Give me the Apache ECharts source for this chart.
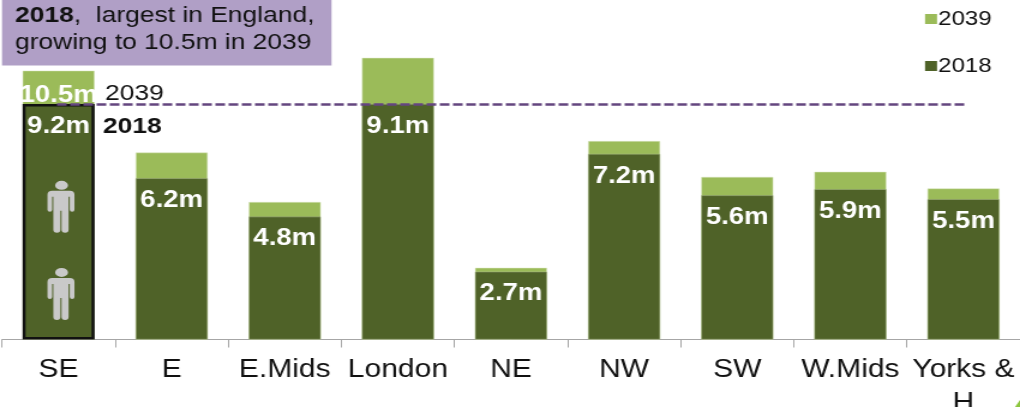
<!DOCTYPE html>
<html><head><meta charset="utf-8">
<style>html,body{margin:0;padding:0;background:#fff;overflow:hidden}#c{width:850px;height:407px;transform:scaleX(1.2);transform-origin:0 0}</style>
<script src="https://cdn.jsdelivr.net/npm/echarts@6/dist/echarts.min.js"></script>
</head><body><div id="c"></div>
<script>
const categories = ['SE','E','E.Mids','London','NE','NW','SW','W.Mids','Yorks &\nH'];
const values2018 = [9.2,6.3,4.8,9.2,2.65,7.25,5.63,5.87,5.48];
const values2039 = [10.5,7.3,5.37,11.0,2.8,7.75,6.35,6.55,5.9];
const labels2018 = ['9.2m','6.2m','4.8m','9.1m','2.7m','7.2m','5.6m','5.9m','5.5m'];
const person = 'path://M12 0a5.5 4.5 0 1 0 .01 0zM5 10h14q4 0 4 4v15q0 2-2 2t-2-2v-13h-1v33q0 3-3 3t-3-3v-19h-1v19q0 3-3 3t-3-3v-33h-1v13q0 2-2 2t-2-2v-15q0-4 4-4z';
const S = 1.2;
const chart = echarts.init(document.getElementById('c'));
const font = 'Liberation Sans';
chart.setOption({
  animation:false,
  textStyle:{fontFamily:font},
  grid:{left:2/S,right:0,top:0,bottom:67.5,outerBoundsMode:'none'},
  legend:{orient:'vertical',left:919/S,top:4,itemWidth:10,itemHeight:10,itemGap:27,icon:'rect',
    data:['2039','2018'],itemStyle:{borderWidth:0},
    textStyle:{fontSize:20,color:'#111',fontFamily:font,padding:[0,0,0,-4]}},
  xAxis:{type:'category',data:categories,
    axisLine:{lineStyle:{color:'#a6a6a6',width:1}},
    axisTick:{show:true,length:8,lineStyle:{color:'#a6a6a6'}},
    axisLabel:{fontSize:25,color:'#111',fontFamily:font,margin:14,lineHeight:33,interval:0,hideOverlap:false,verticalAlign:'top'}},
  yAxis:{type:'value',min:0,max:13.26,show:false,splitLine:{show:false}},
  series:[
    {name:'2039',type:'bar',barWidth:60,barGap:'-100%',z:2,
     data:values2039,
     itemStyle:{color:'#9bbb59',borderColor:'#dbe7c3',borderWidth:0.5},
     label:{show:true,position:'insideTop',formatter:p=>p.dataIndex===0?'10.5m':'',
            color:'#fff',fontSize:23,fontWeight:'bold',fontFamily:font,distance:13}},
    {name:'2018',type:'bar',barWidth:60,z:3,
     data:values2018.map((v,i)=>i===0?{value:v,itemStyle:{borderColor:'#111',borderWidth:2.5}}:v),
     itemStyle:{color:'#4f6228',borderColor:'#a9b78e',borderWidth:0.5},
     label:{show:true,position:'insideTop',formatter:p=>labels2018[p.dataIndex],
            color:'#fff',fontSize:23,fontWeight:'bold',fontFamily:font,distance:11},
     markPoint:{symbol:person,symbolSize:[22.5,52],symbolOffset:[2,0],silent:true,label:{show:false},
       itemStyle:{color:'#c9c9c9'},
       data:[{coord:['SE',5.18]},{coord:['SE',1.78]}]},
     markLine:{silent:true,symbol:'none',z:6,label:{show:false},
       lineStyle:{color:'#64467f',type:[8,3],width:2.5},
       data:[[{x:57/S,yAxis:9.2},{x:967/S,yAxis:9.2}]]}}
  ],
  graphic:[
    {type:'rect',z:10,shape:{x:2/S,y:0,width:329.5/S,height:65.5},style:{fill:'#b09fc6'}},
    {type:'text',z:11,x:60/S,y:-22,style:{text:'pop',fill:'#111',font:'bold 22px "Liberation Sans"'}},
    {type:'text',z:11,left:15/S,top:5,style:{rich:{b:{font:'bold 22px "Liberation Sans"',fill:'#111'},n:{font:'22px "Liberation Sans"',fill:'#111'}},
      text:'{b|2018},{n|  largest in England,}',fill:'#111',font:'22px "Liberation Sans"'}},
    {type:'text',z:11,left:15/S,top:32,style:{text:'growing to 10.5m in 2039',fill:'#111',font:'22px "Liberation Sans"'}},
    {type:'text',z:11,left:105/S,top:83,style:{text:'2039',fill:'#111',font:'22px "Liberation Sans"'}},
    {type:'text',z:11,left:103/S,top:116,style:{text:'2018',fill:'#111',font:'bold 22px "Liberation Sans"'}},
    {type:'polygon',z:11,shape:{points:[[1020/S,400],[1020/S,407],[1015/S,407]]},style:{fill:'#8dc63f'}}
  ]
});
</script></body></html>
